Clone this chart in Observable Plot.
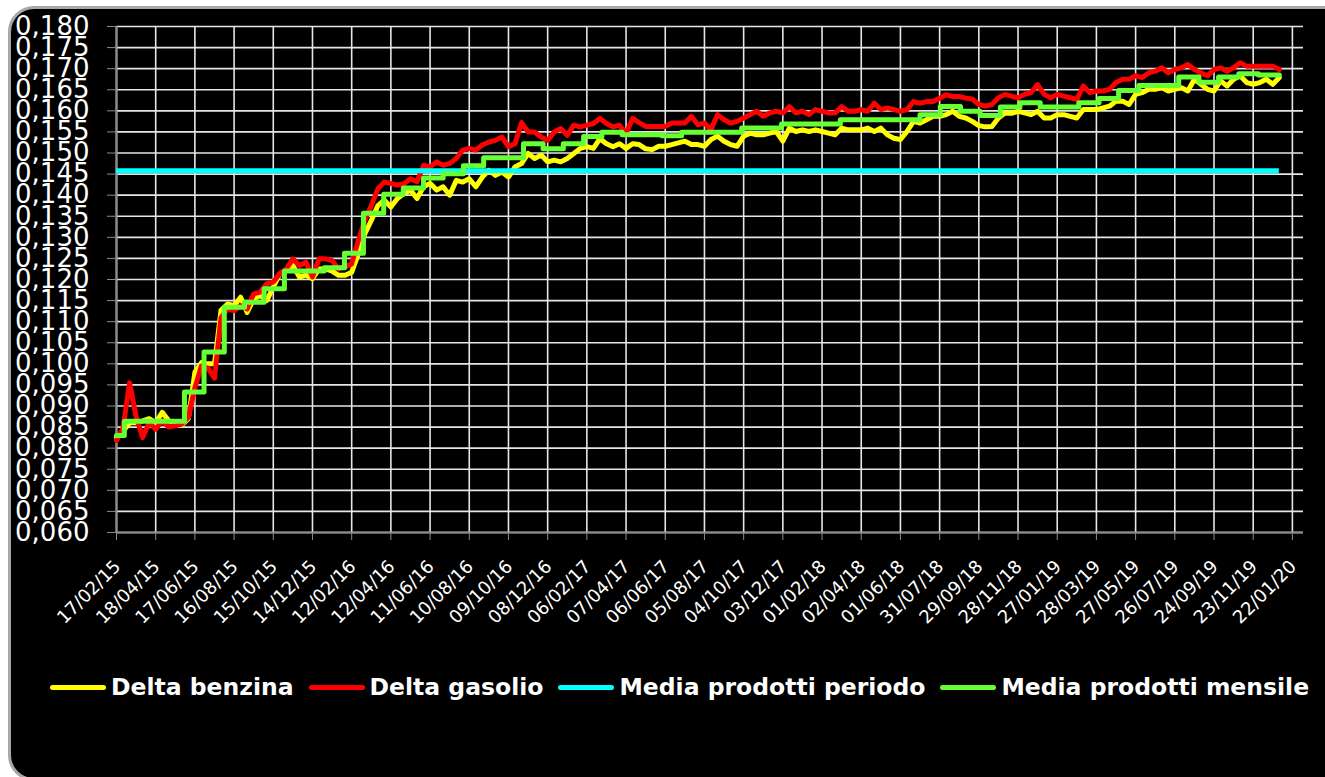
<!DOCTYPE html>
<html><head><meta charset="utf-8">
<script src="https://cdn.jsdelivr.net/npm/d3@7"></script>
<script src="https://cdn.jsdelivr.net/npm/@observablehq/plot@0.6"></script>
<style>
html,body{margin:0;padding:0;background:#fff;width:1325px;height:777px;overflow:hidden;position:relative;}
#panel{position:absolute;left:8px;top:6px;width:1345px;height:775px;box-sizing:border-box;background:#000;border:3px solid #a8a8a8;border-radius:26px;}
#chart{position:absolute;left:0;top:0;}
#legend{position:absolute;left:50px;top:672px;height:30px;display:flex;align-items:center;gap:15px;font-family:"DejaVu Sans",sans-serif;font-weight:bold;font-size:23.5px;color:#fff;white-space:nowrap;}
.item{display:flex;align-items:center;height:30px;}
.sw{display:inline-block;width:56px;height:5px;border-radius:3px;margin-right:5px;}
</style></head>
<body>
<div id="panel"></div>
<div id="chart"></div>
<div id="legend"></div>
<script>
// ---- data ----
const startDate = "2015-02-17";
const stepDays = 10;
const benzina = [
0.0825,0.0840,0.0860,0.0860,0.0865,0.0870,0.0860,0.0885,0.0865,0.0858,
0.0855,0.0870,0.0980,0.1003,0.1000,0.1000,0.1127,0.1142,0.1138,0.1158,
0.1122,0.1154,0.1162,0.1150,0.1182,0.1214,0.1222,0.1233,0.1206,0.1210,
0.1202,0.1225,0.1225,0.1220,0.1210,0.1210,0.1217,0.1260,0.1308,0.1340,
0.1375,0.1388,0.1372,0.1392,0.1404,0.1412,0.1392,0.1420,0.1428,0.1412,
0.1420,0.1400,0.1435,0.1431,0.1439,0.1420,0.1443,0.1459,0.1447,0.1455,
0.1443,0.1467,0.1475,0.1499,0.1487,0.1495,0.1479,0.1483,0.1479,0.1487,
0.1499,0.1511,0.1515,0.1511,0.1534,0.1522,0.1515,0.1522,0.1511,0.1522,
0.1520,0.1510,0.1508,0.1516,0.1516,0.1520,0.1524,0.1528,0.1520,0.1520,
0.1516,0.1532,0.1540,0.1528,0.1520,0.1516,0.1540,0.1547,0.1543,0.1543,
0.1547,0.1551,0.1528,0.1559,0.1551,0.1555,0.1551,0.1555,0.1551,0.1547,
0.1543,0.1559,0.1555,0.1555,0.1555,0.1559,0.1551,0.1559,0.1543,0.1535,
0.1532,0.1551,0.1575,0.1571,0.1579,0.1587,0.1587,0.1591,0.1599,0.1587,
0.1583,0.1575,0.1565,0.1562,0.1563,0.1583,0.1595,0.1594,0.1599,0.1595,
0.1591,0.1599,0.1583,0.1583,0.1591,0.1591,0.1587,0.1583,0.1603,0.1603,
0.1603,0.1607,0.1611,0.1623,0.1623,0.1615,0.1639,0.1643,0.1651,0.1651,
0.1655,0.1647,0.1651,0.1655,0.1647,0.1675,0.1663,0.1651,0.1647,0.1671,
0.1659,0.1675,0.1683,0.1667,0.1663,0.1667,0.1675,0.1663,0.1679
];
const gasolio = [
0.0818,0.0848,0.0955,0.0875,0.0825,0.0861,0.0845,0.0865,0.0850,0.0853,
0.0857,0.0873,0.0943,0.0995,0.0990,0.0966,0.1110,0.1130,0.1126,0.1138,
0.1130,0.1166,0.1170,0.1190,0.1194,0.1214,0.1225,0.1249,0.1233,0.1241,
0.1206,0.1249,0.1249,0.1245,0.1225,0.1230,0.1237,0.1292,0.1340,0.1375,
0.1415,0.1431,0.1428,0.1424,0.1427,0.1439,0.1432,0.1471,0.1467,0.1479,
0.1471,0.1475,0.1487,0.1507,0.1511,0.1507,0.1519,0.1526,0.1530,0.1538,
0.1515,0.1522,0.1572,0.1550,0.1550,0.1538,0.1530,0.1550,0.1558,0.1542,
0.1566,0.1562,0.1566,0.1570,0.1582,0.1570,0.1562,0.1566,0.1546,0.1582,
0.1572,0.1563,0.1563,0.1563,0.1563,0.1571,0.1571,0.1571,0.1587,0.1567,
0.1571,0.1555,0.1591,0.1579,0.1571,0.1575,0.1583,0.1591,0.1599,0.1587,
0.1595,0.1599,0.1595,0.1610,0.1595,0.1599,0.1591,0.1603,0.1599,0.1595,
0.1595,0.1610,0.1599,0.1599,0.1603,0.1599,0.1618,0.1603,0.1607,0.1603,
0.1599,0.1603,0.1622,0.1618,0.1622,0.1622,0.1630,0.1638,0.1634,0.1634,
0.1630,0.1628,0.1615,0.1611,0.1615,0.1631,0.1639,0.1635,0.1631,0.1639,
0.1643,0.1662,0.1639,0.1631,0.1639,0.1635,0.1631,0.1627,0.1659,0.1643,
0.1647,0.1647,0.1651,0.1667,0.1675,0.1675,0.1683,0.1679,0.1690,0.1694,
0.1702,0.1690,0.1698,0.1702,0.1710,0.1698,0.1690,0.1683,0.1698,0.1702,
0.1694,0.1702,0.1714,0.1706,0.1706,0.1706,0.1706,0.1706,0.1698
];
const mensileStart = "2015-02";
const mediaMensile = [
0.0830,0.0864,0.0864,0.0864,0.0933,0.1028,0.1134,0.1146,0.1178,0.1220,0.1220,
0.1228,0.1262,0.1357,0.1402,0.1417,0.1441,0.1451,0.1470,0.1489,0.1489,0.1522,0.1510,
0.1522,0.1539,0.1549,0.1543,0.1543,0.1541,0.1549,0.1549,0.1549,0.1559,0.1559,0.1569,
0.1569,0.1569,0.1579,0.1579,0.1579,0.1579,0.1591,0.1610,0.1599,0.1589,0.1609,0.1619,
0.1609,0.1609,0.1619,0.1629,0.1648,0.1660,0.1660,0.1680,0.1668,0.1680,0.1688,0.1685
];
const mediaPeriodo = 0.1458;
const yTicks = [0.060,0.065,0.070,0.075,0.080,0.085,0.090,0.095,0.100,0.105,0.110,0.115,0.120,
  0.125,0.130,0.135,0.140,0.145,0.150,0.155,0.160,0.165,0.170,0.175,0.180];
const xTickLabels = ["17/02/15","18/04/15","17/06/15","16/08/15","15/10/15","14/12/15","12/02/16",
  "12/04/16","11/06/16","10/08/16","09/10/16","08/12/16","06/02/17","07/04/17","06/06/17","05/08/17",
  "04/10/17","03/12/17","01/02/18","02/04/18","01/06/18","31/07/18","29/09/18","28/11/18","27/01/19",
  "28/03/19","27/05/19","26/07/19","24/09/19","23/11/19","22/01/20"];
const axisEnd = "2020-02-08";
const seriesNames = ["Delta benzina","Delta gasolio","Media prodotti periodo","Media prodotti mensile"];
const seriesColors = ["#ffff00","#ff0000","#00ffff","#66ff33"];

// ---- build ----
const parseISO = d3.utcParse("%Y-%m-%d");
const parseTick = d3.utcParse("%d/%m/%y");
const t0 = parseISO(startDate);
const rowsB = benzina.map((v,i)=>({date:d3.utcDay.offset(t0,i*stepDays), v}));
const rowsG = gasolio.map((v,i)=>({date:d3.utcDay.offset(t0,i*stepDays), v}));
const tEnd = rowsB[rowsB.length-1].date;
const m0 = d3.utcParse("%Y-%m")(mensileStart);
const rowsM = mediaMensile.map((v,i)=>({date: i===0 ? t0 : d3.utcMonth.offset(m0,i), v}));
rowsM.push({date:tEnd, v:mediaMensile[mediaMensile.length-1]});
const xTickRows = xTickLabels.map(label=>({date:parseTick(label), label}));
const xTicks = xTickRows.map(d=>d.date);
const fmtY = v => d3.format(".3f")(v).replace(".", ",");

const chart = Plot.plot({
  width:1325, height:640,
  marginLeft:116, marginRight:22, marginTop:26, marginBottom:108,
  style:{background:"transparent", color:"#fff", fontFamily:"DejaVu Sans, sans-serif", overflow:"visible"},
  x:{type:"utc", domain:[t0, parseISO(axisEnd)]},
  y:{domain:[yTicks[0], yTicks[yTicks.length-1]]},
  marks:[
    Plot.ruleY(yTicks, {stroke:"#e6e6e6", strokeWidth:1.6}),
    Plot.ruleX(xTicks, {stroke:"#e6e6e6", strokeWidth:1.6}),
    Plot.ruleX([t0], {stroke:"#8c8c8c", strokeWidth:2}),
    Plot.ruleY([yTicks[0]], {stroke:"#8c8c8c", strokeWidth:2}),
    Plot.axisY({ticks:yTicks, tickSize:9, tickPadding:18, tickFormat:fmtY, fontSize:26,
      stroke:"#8c8c8c", fill:"#fff", label:null}),
    Plot.axisX({ticks:xTicks, tickSize:8, tickFormat:()=>"", stroke:"#8c8c8c", label:null}),
    Plot.text(xTickRows, {x:"date", text:"label", frameAnchor:"bottom", dy:31, dx:1, rotate:-45,
      textAnchor:"end", lineAnchor:"middle", fontSize:18, fill:"#fff"}),
    Plot.line(rowsB, {x:"date", y:"v", stroke:seriesColors[0], strokeWidth:5}),
    Plot.line(rowsG, {x:"date", y:"v", stroke:seriesColors[1], strokeWidth:5}),
    Plot.ruleY([mediaPeriodo], {x1:t0, x2:tEnd, stroke:seriesColors[2], strokeWidth:5}),
    Plot.line(rowsM, {x:"date", y:"v", curve:"step-after", stroke:seriesColors[3], strokeWidth:5})
  ]
});
document.getElementById("chart").appendChild(chart);

const legend = document.getElementById("legend");
seriesNames.forEach((name,i)=>{
  const item = document.createElement("div");
  item.className = "item";
  const sw = document.createElement("span");
  sw.className = "sw";
  sw.style.background = seriesColors[i];
  const tx = document.createElement("span");
  tx.textContent = name;
  item.appendChild(sw); item.appendChild(tx);
  legend.appendChild(item);
});
</script>
</body></html>
